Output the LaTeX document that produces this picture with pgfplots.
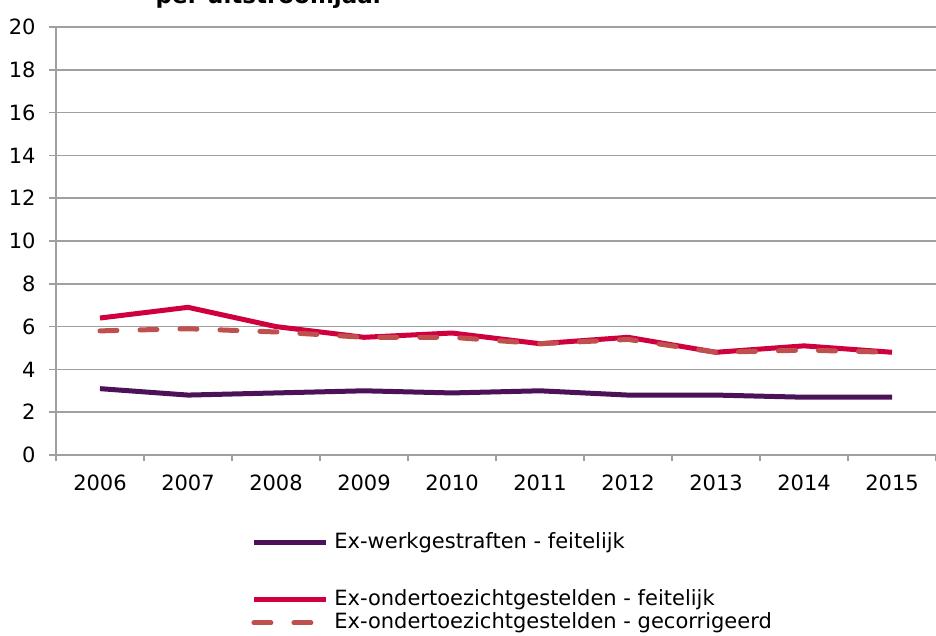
\documentclass[border=0pt]{standalone}
\usepackage{fontspec}
\setmainfont{DejaVu Sans}
\usepackage{pgfplots}
\pgfplotsset{compat=1.18}
\definecolor{cpurple}{HTML}{4B1159}
\definecolor{cred}{HTML}{D0003E}
\definecolor{cdash}{HTML}{C0504D}
\definecolor{cgrid}{HTML}{A0A0A0}
\begin{document}
\fontsize{10.5}{12.5}\selectfont
\begin{tikzpicture}
\begin{axis}[
  scale only axis, width=440pt, height=214pt,
  xmin=-0.5, xmax=9.5, ymin=0, ymax=20,
  ytick={0,2,...,20},
  xtick={0,1,2,3,4,5,6,7,8,9},
  xticklabels={2006,2007,2008,2009,2010,2011,2012,2013,2014,2015},
  major x tick style={draw=none},
  minor xtick={-0.5,0.5,...,9.5},
  axis lines=left,
  axis line style={-, draw=cgrid, line width=0.75pt},
  ymajorgrids, grid style={cgrid, line width=0.75pt},
  tick style={cgrid, line width=0.75pt},
  tick align=outside, major tick length=3.5pt, minor tick length=3pt,
  /pgf/number format/assume math mode=true,
  ticklabel style={font=\fontsize{10.5}{12.5}\selectfont, text=black},
  yticklabel style={xshift=-3pt},
  xticklabel style={yshift=-3pt},
  legend cell align=left,
  legend style={at={(0,0)}, anchor=north west, xshift=94.5pt, yshift=-37pt,
    draw=none, fill=none, row sep=2pt,
    nodes={inner sep=0pt, text height=7.5pt, text depth=2pt, font=\fontsize{10.5}{12.5}\selectfont},
    /tikz/every odd column/.style={column sep=3pt}},
  legend image code/.code={\draw[#1, line width=2.5pt] (0pt,0pt) -- (36pt,0pt);},
]
\addplot[cpurple, line width=2.5pt, line join=round] coordinates {
(0,3.1) (1,2.8) (2,2.9) (3,3.0) (4,2.9) (5,3.0) (6,2.8) (7,2.8) (8,2.7) (9,2.7)};
\addlegendentry{Ex-werkgestraften - feitelijk}
\addlegendimage{empty legend}
\addlegendentry[text height=13pt]{}
\addplot[cred, line width=2.5pt, line join=round] coordinates {
(0,6.4) (1,6.9) (2,6.0) (3,5.5) (4,5.7) (5,5.2) (6,5.5) (7,4.8) (8,5.1) (9,4.8)};
\addlegendentry{Ex-ondertoezichtgestelden - feitelijk}
\addplot[cdash, line width=2.5pt, line cap=round, dash pattern=on 8.5pt off 11.5pt] coordinates {
(0,5.8) (1,5.9) (2,5.75) (3,5.5) (4,5.5) (5,5.2) (6,5.4) (7,4.8) (8,4.9) (9,4.8)};
\addlegendentry{Ex-ondertoezichtgestelden - gecorrigeerd}
\end{axis}
\node[anchor=base, font=\bfseries\fontsize{11.5}{13.5}\selectfont] at ([xshift=107pt, yshift=11.5pt]current axis.north west) {per uitstroomjaar};
\pgfresetboundingbox
\path ([xshift=-28pt, yshift=-90.5pt]current axis.south west) rectangle ([yshift=13.5pt]current axis.north east);
\end{tikzpicture}
\end{document}
